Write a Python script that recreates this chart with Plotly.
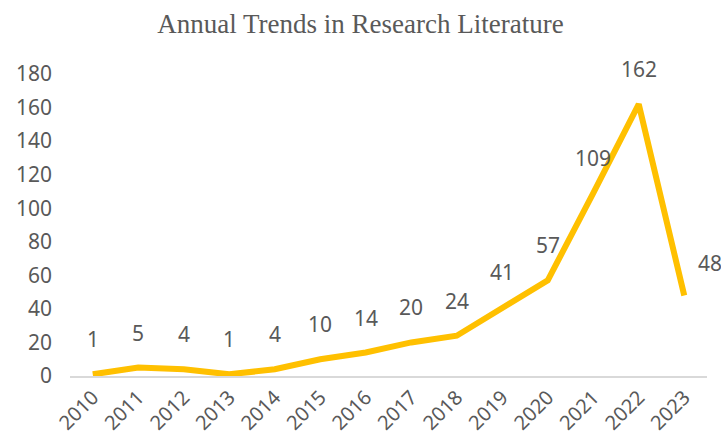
import plotly.graph_objects as go

years = ["2010", "2011", "2012", "2013", "2014", "2015", "2016",
         "2017", "2018", "2019", "2020", "2021", "2022", "2023"]
counts = [1, 5, 4, 1, 4, 10, 14, 20, 24, 41, 57, 109, 162, 48]
y_ticks = [0, 20, 40, 60, 80, 100, 120, 140, 160, 180]

FONT = "Noto Sans"
GRAY = "#595959"

fig = go.Figure()
fig.add_trace(go.Scatter(
    x=years, y=counts, mode="lines",
    line=dict(color="#FFC000", width=6),
    hoverinfo="skip", showlegend=False,
))

for i, v in enumerate(counts):
    last = i == len(counts) - 1
    fig.add_annotation(
        x=i, y=v, xref="x", yref="y", text=str(v), showarrow=False,
        xshift=26 if last else 0, yshift=32 if last else 35,
        font=dict(family=FONT, size=21, color=GRAY),
    )

fig.update_layout(
    width=721, height=439,
    margin=dict(l=70, r=14, t=74, b=63),
    paper_bgcolor="white", plot_bgcolor="white",
    title=dict(
        text="Annual Trends in Research Literature",
        x=0.5, xanchor="center", y=1 - 24 / 439, yanchor="middle",
        font=dict(family="Liberation Serif", size=27, color=GRAY),
    ),
    xaxis=dict(
        type="category", range=[-0.5, len(years) - 0.5],
        showgrid=False, zeroline=False, automargin=False,
        showline=True, linecolor="#d9d9d9", linewidth=1.5,
        ticks="", tickangle=-45, ticklabelstandoff=0,
        tickfont=dict(family=FONT, size=20, color=GRAY),
    ),
    yaxis=dict(
        range=[0, 180], tickvals=y_ticks, automargin=False,
        showgrid=False, zeroline=False, showline=False,
        ticks="", ticklabelstandoff=17,
        tickfont=dict(family=FONT, size=21, color=GRAY),
    ),
)

fig.write_html("out.html")
